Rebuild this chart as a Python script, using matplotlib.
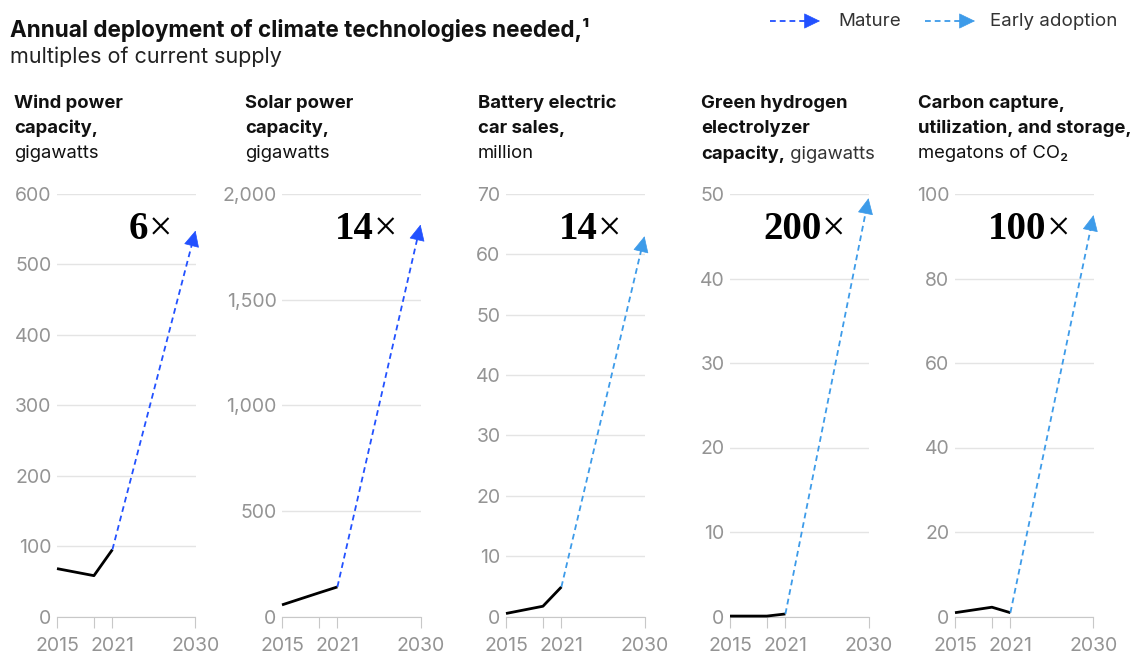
import matplotlib
matplotlib.use("Agg")
import matplotlib.pyplot as plt
import numpy as np
from matplotlib.patches import FancyArrowPatch

# values
years = [2015, 2019, 2021]
target_year = 2030
wind = [68, 58, 95]
solar = [55, 112, 140]
ev = [0.5, 1.7, 4.9]
hydrogen = [0.05, 0.05, 0.3]
ccus = [0.9, 2.2, 0.9]
targets = [548, 1855, 63, 49.5, 95]
multiples = ["6", "14", "14", "200", "100"]
kinds = ["Mature", "Mature", "Early adoption", "Early adoption", "Early adoption"]
yticks = [
    [0, 100, 200, 300, 400, 500, 600],
    [0, 500, 1000, 1500, 2000],
    [0, 10, 20, 30, 40, 50, 60, 70],
    [0, 10, 20, 30, 40, 50],
    [0, 20, 40, 60, 80, 100],
]
headers = [
    [[("Wind power", "bold")], [("capacity,", "bold")], [("gigawatts", "normal")]],
    [[("Solar power", "bold")], [("capacity,", "bold")], [("gigawatts", "normal")]],
    [[("Battery electric", "bold")], [("car sales,", "bold")], [("million", "normal")]],
    [[("Green hydrogen", "bold")], [("electrolyzer", "bold")],
     [("capacity,", "bold"), (" gigawatts", "normal")]],
    [[("Carbon capture,", "bold")], [("utilization, and storage,", "bold")],
     [("megatons of CO\u2082", "normal")]],
]
series = [wind, solar, ev, hydrogen, ccus]

colors = {"Mature": "#2251ff", "Early adoption": "#3d9be9"}
SANS = ["Inter", "DejaVu Sans"]
GRAY = "#949494"

W, H = 1133, 656
fig = plt.figure(figsize=(W / 100, H / 100), dpi=100)
plt.rcParams["font.family"] = SANS


def px(x, y):
    return x / W, 1 - y / H


def dashed_arrow(p0, p1, c, trans):
    # p0, p1 in display pixels; dashed shaft plus a solid head
    p0, p1 = np.asarray(p0, float), np.asarray(p1, float)
    d = (p1 - p0) / np.hypot(*(p1 - p0))
    inv = trans.inverted()
    shaft_end = p1 - d * 8
    fig.add_artist(plt.Line2D(*inv.transform([p0, shaft_end]).T, color=c, lw=1.3,
                              linestyle=(0, (3.2, 2.2)), transform=trans))
    fig.add_artist(FancyArrowPatch(inv.transform(p1 - d * 11), inv.transform(p1),
                                   transform=trans, color=c, lw=0.5,
                                   arrowstyle="-|>,head_length=0.7,head_width=0.34",
                                   mutation_scale=15, shrinkA=0, shrinkB=0))


# title
fig.text(*px(10, 30), "Annual deployment of climate technologies needed,\u00b9",
         fontsize=16.2, fontweight="bold", va="center", color="#111111")
fig.text(*px(10, 57), "multiples of current supply", fontsize=15.5, va="center",
         color="#222222")

# legend
for (x0, x1, tx), kind in zip([(770, 820, 838), (925, 975, 990)], colors):
    dashed_arrow((x0, H - 21), (x1, H - 21), colors[kind], fig.transFigure)
    fig.text(*px(tx, 21), kind, fontsize=13.5, va="center", color="#333333")

left_px = [57, 282, 506, 730, 955]
head_px = [14, 245, 478, 701, 918]
axis_w = 138.5
y0_px, ytop_px = 616.5, 194

for i in range(5):
    l, b = px(left_px[i], y0_px)
    ax = fig.add_axes([l, b, axis_w / W, (y0_px - ytop_px) / H])
    ax.set_xlim(2015, 2030)
    ax.set_ylim(0, yticks[i][-1])
    ax.set_yticks(yticks[i], labels=[f"{v:,}" for v in yticks[i]])
    ax.set_xticks([2015, 2019, 2021, 2030], labels=["2015", "", "2021", "2030"])
    for s in ["left", "right", "top"]:
        ax.spines[s].set_visible(False)
    ax.spines["bottom"].set_color("#c8c8c8")
    ax.yaxis.grid(True, color="#e4e4e4", lw=1)
    ax.set_axisbelow(True)
    ax.tick_params(axis="y", length=0, pad=4, labelsize=14, labelcolor=GRAY)
    ax.tick_params(axis="x", length=8, color="#c8c8c8", pad=6.5, labelsize=14,
                   labelcolor=GRAY)
    ax.patch.set_alpha(0)

    vals = series[i]
    ax.plot(years, vals, color="black", lw=2, solid_capstyle="butt", clip_on=False,
            zorder=3)
    start = ax.transData.transform((years[-1], vals[-1]))
    end = ax.transData.transform((target_year, targets[i]))
    dashed_arrow(start, end, colors[kinds[i]], fig.transFigure)

    xt = ax.text(0.83, 0.915, "\u00d7", transform=ax.transAxes, ha="right",
                 va="center", fontsize=30, family="Liberation Serif", color="black")
    ax.annotate(multiples[i], xy=(0, 0.5), xycoords=xt, ha="right", va="center",
                fontsize=28, fontweight="bold", family="Liberation Serif",
                color="black")

    # panel header
    for j, line in enumerate(headers[i]):
        last = None
        for text, weight in line:
            if last is None:
                last = fig.text(*px(head_px[i], 103 + 25.5 * j), text, fontsize=13.3,
                                fontweight=weight, va="center", color="#111111")
            else:
                last = ax.annotate(text, xy=(1, 0), xycoords=last, ha="left",
                                   va="bottom", fontsize=13.3, fontweight=weight,
                                   color="#333333", annotation_clip=False)

fig.savefig("out.png", dpi=100)
